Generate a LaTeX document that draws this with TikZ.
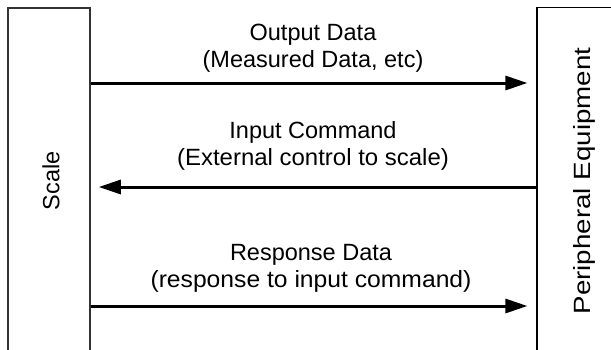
\documentclass[tikz,border=0pt]{standalone}
\usepackage{fontspec}
\setmainfont{Liberation Sans}
\usetikzlibrary{arrows.meta, positioning}

\begin{document}
\begin{tikzpicture}[x=1pt, y=-1pt,
    >={Triangle[length=22pt, width=14pt]},
    unit/.style={draw=black!80, line width=1.5pt, minimum width=82pt, minimum height=380pt, anchor=north, inner sep=0pt},
    unitname/.style={rotate=90, font=\fontsize{23.5}{27}\selectfont},
    lbl/.style={align=center, font=\fontsize{23.5}{27}\selectfont, inner sep=1pt},
    flow/.style={->, line width=3pt},
]
\useasboundingbox (0,0) rectangle (611,349);
\node[unit] (scale) at (49,7) {};
\node[unit, draw=black, line width=1.2pt] (periph) at (578,7) {};
\node[unitname] (scalename) at (51,181) {Scale};
\node[unitname] (periphname) at (584,181) {\scalebox{1.18}[1]{Peripheral Equipment}};
% rows of the exchange
\coordinate (r1) at (0,83);
\coordinate (r2) at (0,187);
\coordinate (r3) at (0,306);
\node[lbl] (outlbl) at (313,48) {Output Data\\(Measured Data, etc)};
\node[lbl] (inlbl) at (313,146) {Input Command\\\scalebox{1.02}[1]{(External control to scale)}};
\node[lbl] (resplbl) at (311,268) {Response Data\\\scalebox{1.05}[1]{(response to input command)}};
\draw[flow, shorten >=9pt] (scale.east |- r1) -- (periph.west |- r1);
\draw[flow, shorten >=8pt] (periph.west |- r2) -- (scale.east |- r2);
\draw[flow, shorten >=9pt] (scale.east |- r3) -- (periph.west |- r3);
\end{tikzpicture}
\end{document}
